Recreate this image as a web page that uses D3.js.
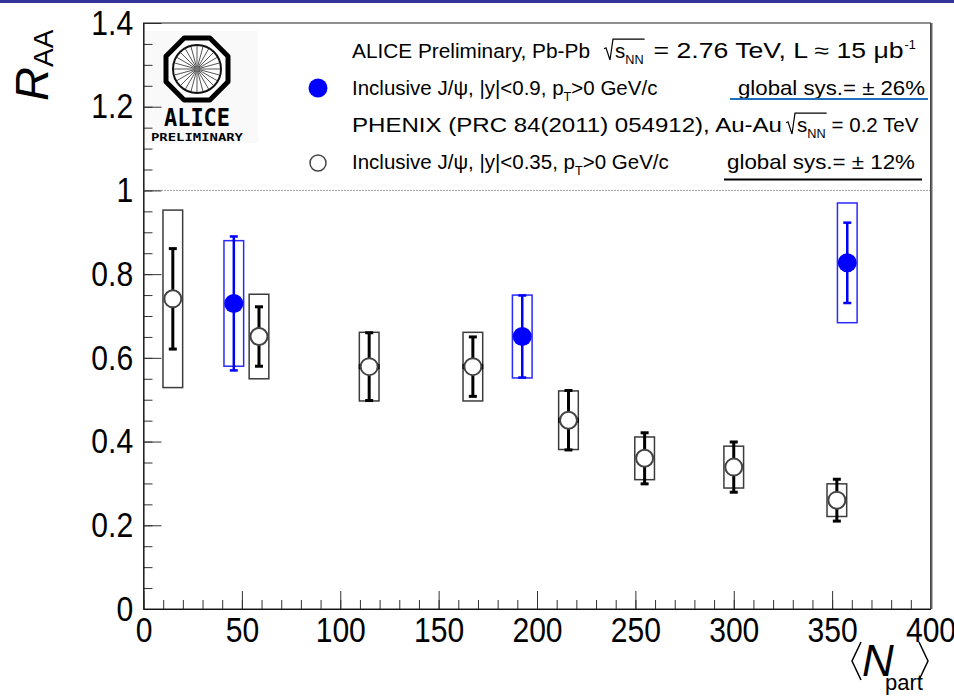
<!DOCTYPE html>
<html lang="en">
<head>
<meta charset="UTF-8">
<title>J/psi R_AA vs Npart</title>
<script src="https://d3js.org/d3.v7.min.js"></script>
<style>
    body { margin: 0; background: #fff; }
    svg { display: block; font-family: "Liberation Sans", Arial, sans-serif; }
    .tick text { fill: #000; }
</style>
</head>
<body>
<svg width="954" height="697"></svg>
<script>
// ALICE Pb-Pb 2.76 TeV
const aliceNpart = [45.9, 192.5, 357.7];
const aliceRaa   = [0.730, 0.651, 0.827];
const aliceStat  = [0.160, 0.098, 0.096];
const aliceSys   = [0.150, 0.099, 0.143];

// PHENIX Au-Au 0.2 TeV
const phenixNpart = [14.9, 58.7, 114.7, 167.4, 216.0, 254.7, 300.0, 352.4];
const phenixRaa   = [0.741, 0.651, 0.579, 0.579, 0.451, 0.360, 0.339, 0.260];
const phenixStat  = [0.120, 0.071, 0.081, 0.071, 0.071, 0.061, 0.060, 0.050];
const phenixSys   = [0.212, 0.101, 0.082, 0.082, 0.070, 0.051, 0.050, 0.039];
const phenixNerr  = [0, 0, 5.3, 5.3, 5.3, 0, 0, 0];

const xTicks = [0, 50, 100, 150, 200, 250, 300, 350, 400];
const yTicks = [0, 0.2, 0.4, 0.6, 0.8, 1, 1.2, 1.4];

const svg = d3.select("svg");
const boxHalf = 5;   // sys box half width in Npart units

const x = d3.scaleLinear().domain([0, 400]).range([143.5, 930.5]);
const y = d3.scaleLinear().domain([0, 1.4]).range([609, 23]);

// slide header bar
svg.append("rect").attr("x", 0).attr("y", 0).attr("width", 954).attr("height", 3).attr("fill", "#333399");

// logo background
svg.append("rect").attr("x", 145).attr("y", 31).attr("width", 113).attr("height", 112).attr("fill", "#f9f9f9");

// axes
const labelScale = "scale(0.86,1)";
const yMinor = d3.range(0, 1.4001, 0.05);
const xMinor = d3.range(0, 400.1, 10);

svg.append("g").attr("transform", `translate(${x(0)},0)`)
    .call(d3.axisLeft(y).tickValues(yMinor).tickSize(-9).tickFormat(""))
    .call(g => g.select(".domain").remove());
const yAxis = svg.append("g").attr("transform", `translate(${x(0)},0)`)
    .call(d3.axisLeft(y).tickValues(yTicks).tickSize(-18).tickSizeOuter(0).tickPadding(12)
        .tickFormat(d => d3.format("")(+d.toFixed(1))));
yAxis.selectAll("text").attr("font-size", 35).attr("transform", labelScale);

svg.append("g").attr("transform", `translate(0,${y(0)})`)
    .call(d3.axisBottom(x).tickValues(xMinor).tickSize(-9).tickFormat(""))
    .call(g => g.select(".domain").remove());
const xAxis = svg.append("g").attr("transform", `translate(0,${y(0)})`)
    .call(d3.axisBottom(x).tickValues(xTicks).tickSize(-18).tickSizeOuter(0).tickPadding(8));
xAxis.selectAll("text").attr("font-size", 35).attr("transform", labelScale);

svg.selectAll(".tick line").attr("stroke", "#333");

// frame
svg.append("rect")
    .attr("x", x(0)).attr("y", y(1.4))
    .attr("width", x(400) - x(0)).attr("height", y(0) - y(1.4))
    .attr("fill", "none").attr("stroke", "#222").attr("stroke-width", 1);
svg.append("line")
    .attr("x1", x(400) + 1).attr("x2", x(400) + 1).attr("y1", y(1.4)).attr("y2", y(0))
    .attr("stroke", "#666").attr("stroke-width", 2);

// unity line
svg.append("line")
    .attr("x1", x(0)).attr("x2", x(400)).attr("y1", y(1)).attr("y2", y(1))
    .attr("stroke", "#444").attr("stroke-width", 1).attr("stroke-dasharray", "1,2");

// data
const phenix = phenixNpart.map((n, i) => ({n, v: phenixRaa[i], st: phenixStat[i], sy: phenixSys[i], ne: phenixNerr[i]}));
const alice = aliceNpart.map((n, i) => ({n, v: aliceRaa[i], st: aliceStat[i], sy: aliceSys[i], ne: 0}));

function drawSeries(data, col, boxCol, statW, capW) {
    const g = svg.append("g");
    g.selectAll("rect.sys").data(data).join("rect").attr("class", "sys")
        .attr("x", d => x(d.n - boxHalf)).attr("width", d => x(d.n + boxHalf) - x(d.n - boxHalf))
        .attr("y", d => y(d.v + d.sy)).attr("height", d => y(d.v - d.sy) - y(d.v + d.sy))
        .attr("fill", "none").attr("stroke", boxCol).attr("stroke-width", 1.5);
    g.selectAll("line.stat").data(data).join("line").attr("class", "stat")
        .attr("x1", d => x(d.n)).attr("x2", d => x(d.n))
        .attr("y1", d => y(d.v + d.st)).attr("y2", d => y(d.v - d.st))
        .attr("stroke", col).attr("stroke-width", statW);
    ["hi", "lo"].forEach(k => {
        g.selectAll("line.cap" + k).data(data).join("line").attr("class", "cap" + k)
            .attr("x1", d => x(d.n) - capW / 2).attr("x2", d => x(d.n) + capW / 2)
            .attr("y1", d => y(k === "hi" ? d.v + d.st : d.v - d.st))
            .attr("y2", d => y(k === "hi" ? d.v + d.st : d.v - d.st))
            .attr("stroke", col).attr("stroke-width", statW);
    });
    g.selectAll("line.nerr").data(data.filter(d => d.ne > 0)).join("line").attr("class", "nerr")
        .attr("x1", d => x(d.n - d.ne)).attr("x2", d => x(d.n + d.ne))
        .attr("y1", d => y(d.v)).attr("y2", d => y(d.v))
        .attr("stroke", col).attr("stroke-width", 5);
    return g;
}

drawSeries(phenix, "#000", "#3c3c3c", 3, 8)
    .selectAll("circle").data(phenix).join("circle")
    .attr("cx", d => x(d.n)).attr("cy", d => y(d.v)).attr("r", 8.5)
    .attr("fill", "#fff").attr("stroke", "#444").attr("stroke-width", 2);

drawSeries(alice, "#0000ff", "#2a2aff", 2.5, 8)
    .selectAll("circle").data(alice).join("circle")
    .attr("cx", d => x(d.n)).attr("cy", d => y(d.v)).attr("r", 9.5)
    .attr("fill", "#0000ff");

// legend text, pieces laid out left to right with a cursor
const fs = 20.5;
function textRow(g, x0, y0, pieces) {
    let cx = x0, rx = 0;
    pieces.forEach(p => {
        if (p.gap) { cx += p.gap; return; }
        if (p.radOpen) { rx = cx; cx += 13; return; }
        if (p.radClose) {
            const top = y0 - fs * 0.92;
            g.append("path")
                .attr("d", `M${rx + 2},${y0 - fs * 0.45} L${rx + 4},${y0 - fs * 0.5} L${rx + 8},${y0 + 2} L${rx + 11},${top} L${cx + 1},${top}`)
                .attr("fill", "none").attr("stroke", "#000").attr("stroke-width", 1.2);
            return;
        }
        const small = p.kind === "sub" || p.kind === "sup";
        const dy = p.kind === "sub" ? fs * 0.3 : p.kind === "sup" ? -fs * 0.42 : 0;
        const t = g.append("text").attr("x", cx).attr("y", y0 + dy)
            .attr("font-size", small ? fs * 0.62 : (p.size || fs)).text(p.t);
        if (p.len) t.attr("textLength", p.len).attr("lengthAdjust", "spacingAndGlyphs");
        cx += p.len || t.node().getComputedTextLength();
    });
}

const leg = svg.append("g");
textRow(leg, 352, 58, [
    {t: "ALICE Preliminary, Pb-Pb", len: 238}, {gap: 12},
    {radOpen: true}, {t: "s"}, {t: "NN", kind: "sub"}, {radClose: true}, {gap: 10},
    {t: "= 2.76 TeV, L \u2248 15 \u03bcb", len: 250, size: 21.5}, {gap: 1}, {t: "-1", kind: "sup"}]);
textRow(leg, 352, 95, [{t: "Inclusive J/\u03c8, |y|<0.9, p"}, {t: "T", kind: "sub"}, {t: ">0 GeV/c"}]);
textRow(leg, 738, 95, [{t: "global sys.= \u00b1 26%", len: 187, size: 21}]);
textRow(leg, 352, 132, [
    {t: "PHENIX (PRC 84(2011) 054912), Au-Au", len: 430, size: 21}, {gap: 2},
    {radOpen: true}, {t: "s"}, {t: "NN", kind: "sub"}, {radClose: true}, {gap: 6},
    {t: "= 0.2 TeV"}]);
textRow(leg, 352, 169, [{t: "Inclusive J/\u03c8, |y|<0.35, p"}, {t: "T", kind: "sub"}, {t: ">0 GeV/c"}]);
textRow(leg, 727, 169, [{t: "global sys.= \u00b1 12%", len: 188, size: 21}]);

leg.append("line").attr("x1", 730).attr("x2", 928).attr("y1", 99).attr("y2", 99)
    .attr("stroke", "#1f6fbf").attr("stroke-width", 2);
leg.append("line").attr("x1", 724).attr("x2", 922).attr("y1", 179.5).attr("y2", 179.5)
    .attr("stroke", "#000").attr("stroke-width", 2);
leg.append("circle").attr("cx", 318).attr("cy", 88).attr("r", 9.5).attr("fill", "#0000ff");
leg.append("circle").attr("cx", 318).attr("cy", 163).attr("r", 8).attr("fill", "#fff")
    .attr("stroke", "#444").attr("stroke-width", 1.5);

// ALICE logo
const logo = svg.append("g").attr("transform", "translate(197,69)");
const octR = 31 / Math.cos(Math.PI / 8);
logo.append("polygon")
    .attr("points", d3.range(8).map(k => {
        const a = Math.PI / 8 + k * Math.PI / 4;
        return [octR * Math.cos(a), octR * Math.sin(a)].join(",");
    }).join(" "))
    .attr("fill", "#fff").attr("stroke", "#000").attr("stroke-width", 5).attr("stroke-linejoin", "round");
logo.selectAll("line.spoke").data(d3.range(12)).join("line").attr("class", "spoke")
    .attr("x1", k => 23 * Math.cos(k * Math.PI / 12)).attr("y1", k => 23 * Math.sin(k * Math.PI / 12))
    .attr("x2", k => -23 * Math.cos(k * Math.PI / 12)).attr("y2", k => -23 * Math.sin(k * Math.PI / 12))
    .attr("stroke", "#555").attr("stroke-width", 1);
logo.append("circle").attr("r", 24).attr("fill", "none").attr("stroke", "#111").attr("stroke-width", 2);
logo.append("circle").attr("r", 2.5).attr("fill", "#777");
logo.append("text").attr("x", 0).attr("y", 57).attr("text-anchor", "middle")
    .attr("font-family", "DejaVu Sans Mono, monospace").attr("font-weight", "bold").attr("font-size", 25)
    .attr("textLength", 66).attr("lengthAdjust", "spacingAndGlyphs").text("ALICE");
logo.append("text").attr("x", 0).attr("y", 72).attr("text-anchor", "middle")
    .attr("font-family", "DejaVu Sans Mono, monospace").attr("font-weight", "bold").attr("font-size", 11)
    .attr("textLength", 92).attr("lengthAdjust", "spacingAndGlyphs").text("PRELIMINARY");

// axis titles
const yt = svg.append("text").attr("transform", "translate(48,101) rotate(-90)")
    .attr("font-size", 47);
yt.append("tspan").attr("font-style", "italic").text("R");
yt.append("tspan").attr("font-size", 28).attr("dy", 5).attr("dx", 0).text("AA");

const xt = svg.append("g");
xt.append("path").attr("d", "M861,642 L852,661 L861,680").attr("fill", "none").attr("stroke", "#000").attr("stroke-width", 1.5);
xt.append("path").attr("d", "M919,642 L928,661 L919,680").attr("fill", "none").attr("stroke", "#000").attr("stroke-width", 1.5);
xt.append("text").attr("x", 862).attr("y", 676).attr("font-size", 44).attr("font-style", "italic").text("N");
xt.append("text").attr("x", 885).attr("y", 690).attr("font-size", 22).text("part");
</script>
</body>
</html>
